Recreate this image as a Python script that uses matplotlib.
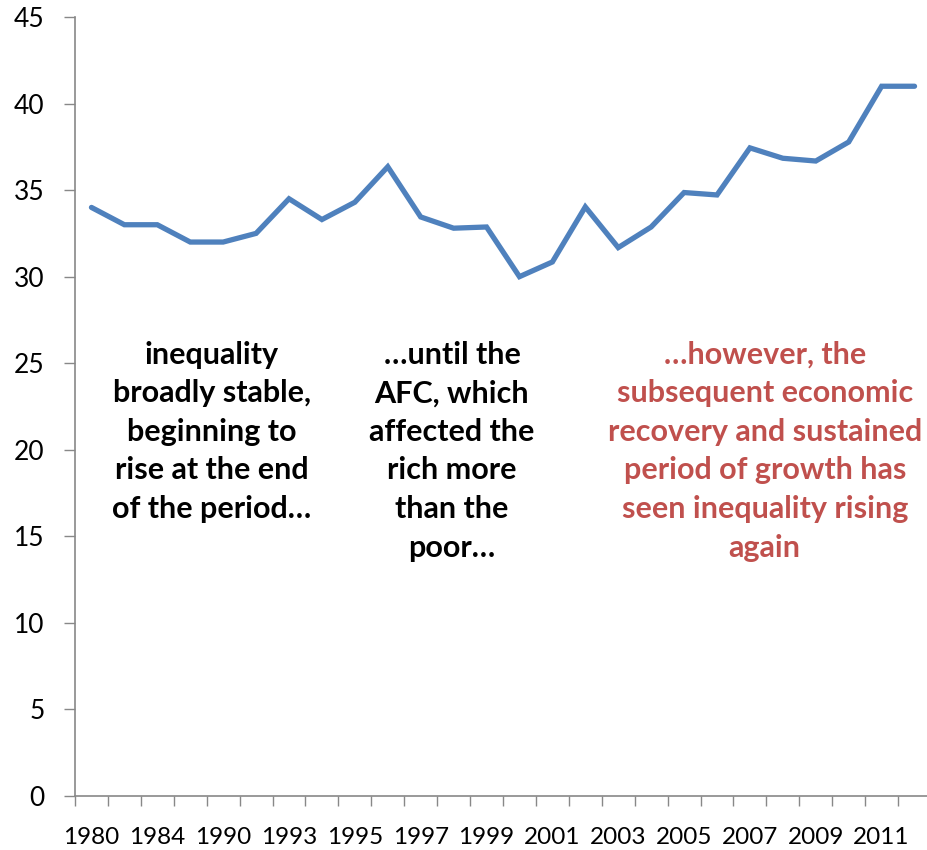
import matplotlib
matplotlib.use("Agg")
import matplotlib.pyplot as plt

years = ["1980", "1981", "1984", "1987", "1990", "1992", "1993", "1994", "1995",
         "1996", "1997", "1998", "1999", "2000", "2001", "2002", "2003", "2004",
         "2005", "2006", "2007", "2008", "2009", "2010", "2011", "2012"]
values = [34.0, 33.0, 33.0, 32.0, 32.0, 32.5, 34.5, 33.3, 34.3, 36.35, 33.45, 32.8,
          32.87, 30.0, 30.85, 34.03, 31.68, 32.87, 34.86, 34.72, 37.44, 36.84,
          36.68, 37.78, 41.0, 41.0]
label_years = ["1980", "1984", "1990", "1993", "1995", "1997", "1999", "2001",
               "2003", "2005", "2007", "2009", "2011"]
yticks = [0, 5, 10, 15, 20, 25, 30, 35, 40, 45]

notes = [
    "inequality\nbroadly stable,\nbeginning to\nrise at the end\nof the period…",
    "…until the\nAFC, which\naffected the\nrich more\nthan the\npoor…",
    "…however, the\nsubsequent economic\nrecovery and sustained\nperiod of growth has\nseen inequality rising\nagain",
]
note_colors = ["#000000", "#000000", "#C0504D"]

plt.rcParams['font.family'] = ['Lato', 'DejaVu Sans']

W, H = 928, 850
fig = plt.figure(figsize=(W / 100, H / 100), dpi=100)
ax = fig.add_axes([75 / W, (H - 796) / H, 856 / W, 779 / H])

x = list(range(len(years)))
ax.plot(x, values, color="#4F81BD", linewidth=3.8, solid_joinstyle="miter",
        solid_capstyle="round")

ax.set_xlim(-0.5, len(years) - 0.5)
ax.set_ylim(0, 45)
ax.set_yticks(yticks)
ax.set_yticklabels([str(t) for t in yticks], fontsize=19)

# boundary ticks
ax.set_xticks([i - 0.5 for i in range(len(years) + 1)])
ax.set_xticklabels([])
ax.tick_params(axis="x", which="major", direction="out", length=7, color="#888888", width=1)
ax.set_xticks([years.index(y) for y in label_years], minor=True)
ax.set_xticklabels(label_years, minor=True, fontsize=17.5)
ax.tick_params(axis="x", which="minor", length=0, pad=22)
ax.tick_params(axis="y", direction="out", length=8, color="#888888", width=1, pad=14)

for s in ["top", "right"]:
    ax.spines[s].set_visible(False)
for s in ["left", "bottom"]:
    ax.spines[s].set_color("#888888")
    ax.spines[s].set_linewidth(1.2)

note_x = [3.65, 10.95, 20.45]
for xt, txt, c in zip(note_x, notes, note_colors):
    ax.text(xt, 26.3, txt, ha="center", va="top", fontsize=22, fontweight="bold",
            color=c, linespacing=1.46)

fig.savefig("out.png", dpi=100)
